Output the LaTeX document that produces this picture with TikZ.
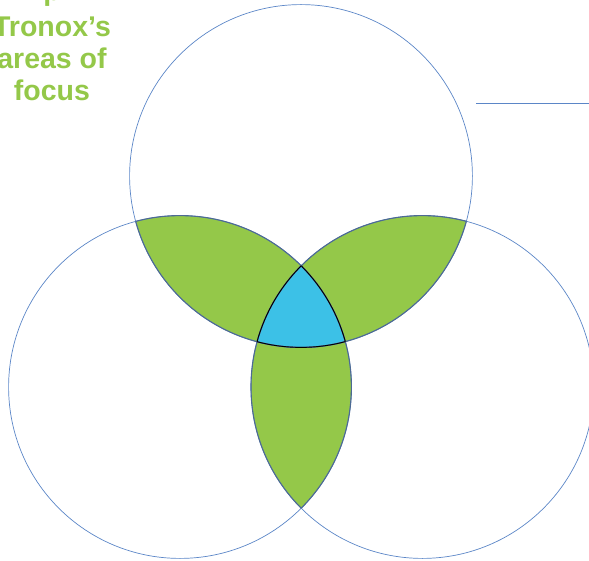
\documentclass[tikz,border=0pt]{standalone}
\usepackage{fontspec}
\setmainfont{Liberation Sans}
\definecolor{vennline}{HTML}{5B86C7}
\definecolor{lensline}{HTML}{4D6A94}
\definecolor{venngreen}{HTML}{94C849}
\definecolor{venncyan}{HTML}{3CC1E7}

\begin{document}
\begin{tikzpicture}[x=1pt,y=-1pt,
  circ/.style={draw=vennline,line width=0.7pt},
  lens/.style={draw=lensline,line width=1.1pt},
  every node/.style={font=\bfseries\fontsize{28.5}{32.2}\selectfont,text=venngreen}]
  \useasboundingbox (0,0) rectangle (589,561);
  \def\rad{171.4}

  \coordinate (ctop) at (301,176);
  \coordinate (cleft) at (180,387);
  \coordinate (cright) at (422.4,387);

  % pairwise overlaps
  \foreach \a/\b in {ctop/cleft,ctop/cright,cleft/cright} {
    \begin{scope}
      \clip (\a) circle (\rad);
      \fill[venngreen] (\b) circle (\rad);
    \end{scope}
  }

  % centre
  \begin{scope}
    \clip (ctop) circle (\rad);
    \clip (cleft) circle (\rad);
    \fill[venncyan] (cright) circle (\rad);
  \end{scope}

  % circles
  \foreach \c in {ctop,cleft,cright}
    \draw[circ] (\c) circle (\rad);

  % lens edges
  \foreach \a/\b in {ctop/cleft,ctop/cright,cleft/cright} {
    \begin{scope}
      \clip (\a) circle (\rad);
      \draw[lens] (\b) circle (\rad);
    \end{scope}
    \begin{scope}
      \clip (\b) circle (\rad);
      \draw[lens] (\a) circle (\rad);
    \end{scope}
  }

  % centre edges
  \foreach \a/\b/\c in {ctop/cleft/cright,cleft/cright/ctop,cright/ctop/cleft} {
    \begin{scope}
      \clip (\a) circle (\rad);
      \clip (\b) circle (\rad);
      \draw[black,line width=0.9pt] (\c) circle (\rad);
    \end{scope}
  }

  % title (first line cut off at the top edge)
  \node[align=center,anchor=base] (title) at (52,100.6) {p\\[3.5pt]Tronox’s\\areas of\\focus};

  % line at right
  \coordinate (lineA) at (476,103);
  \coordinate (lineB) at (589,103);
  \draw[circ] (lineA) -- (lineB);
\end{tikzpicture}
\end{document}
